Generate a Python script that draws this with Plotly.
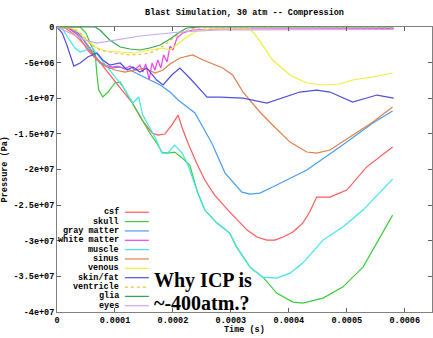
import plotly.graph_objects as go

# ---- data: time in units of 1e-4 s, pressure in MPa ----
names = ["csf", "skull", "gray matter", "white matter", "muscle", "sinus",
         "venous", "skin/fat", "ventricle", "glia", "eyes"]
colors = ["#ff5a5a", "#3ccc3c", "#4a9cf0", "#ee44ee", "#40e4ec", "#e0804c",
          "#eeee3a", "#5050dc", "#f0c040", "#30a850", "#c8a8f4"]
dashes = ["solid"] * 8 + ["dot", "solid", "solid"]

csf_t = [0, 0.19, 0.36, 0.53, 0.71, 0.91, 1.12, 1.29, 1.47, 1.64, 1.74, 1.86, 1.98, 2.09, 2.16, 2.26,
         2.40, 2.55, 2.72, 2.95, 3.28, 3.45, 3.62, 3.76, 3.90, 4.07, 4.24, 4.36, 4.48, 4.71, 5.00, 5.34, 5.79]
csf_p = [0, -0.14, -0.84, -2.53, -4.63, -6.74, -8.85, -10.53, -13.06, -14.88, -15.16, -15.02, -13.76, -12.36,
         -14.18, -16.29, -18.95, -21.48, -23.59, -25.69, -28.50, -29.48, -29.91, -29.91, -29.48, -28.78,
         -27.52, -25.97, -23.87, -23.87, -22.89, -19.66, -16.85]

skull_t = [0, 0.40, 0.50, 0.60, 0.66, 0.69, 0.72, 0.79, 0.88, 1.00, 1.09, 1.22, 1.34, 1.47, 1.60, 1.72,
           1.81, 1.91, 2.03, 2.16, 2.29, 2.43, 2.55, 2.76, 2.98, 3.10, 3.33, 3.57, 3.79, 4.07, 4.24, 4.59,
           4.93, 5.28, 5.62, 5.79]
skull_p = [0, 0, -0.84, -2.95, -3.93, -6.74, -8.85, -9.83, -9.13, -7.86, -7.72, -9.55, -11.23, -13.06,
           -14.88, -16.29, -17.55, -17.69, -17.55, -18.39, -19.38, -23.31, -25.69, -27.52, -28.92, -30.89,
           -33.70, -35.24, -37.35, -38.61, -38.75, -38.05, -36.50, -33.70, -28.92, -26.40]

gray_t = [0, 0.22, 0.40, 0.57, 0.74, 0.91, 1.09, 1.26, 1.43, 1.60, 1.78, 1.95, 2.09, 2.38, 2.67, 2.90,
          3.19, 3.33, 3.50, 3.72, 4.31, 4.88, 5.45, 5.79]
gray_p = [0, -0.14, -1.12, -3.23, -5.05, -5.76, -5.62, -6.04, -6.74, -7.44, -8.14, -9.13, -10.25, -12.07,
          -16.29, -20.50, -23.17, -23.45, -23.31, -22.46, -20.08, -16.85, -13.48, -11.79]

white_t = [0, 0.19, 0.36, 0.53, 0.69, 0.83, 0.95, 1.05, 1.17, 1.26, 1.34, 1.43, 1.48, 1.53, 1.59, 1.64,
           1.69, 1.74, 1.79, 1.84, 1.90, 1.95, 2.00, 2.07, 2.17, 2.34, 2.81, 4.19, 5.81]
white_p = [0, -0.14, -1.12, -3.23, -4.63, -5.34, -5.62, -5.48, -5.90, -5.48, -6.04, -5.34, -6.32, -5.19,
           -7.40, -5.05, -6.04, -4.63, -5.76, -3.93, -4.91, -2.67, -3.23, -1.54, -0.84, -0.42, -0.28,
           -0.21, -0.21]

muscle_t = [0, 0.10, 0.19, 0.31, 0.40, 0.50, 0.60, 0.74, 0.91, 1.14, 1.31, 1.41, 1.48, 1.60, 1.69, 1.81,
            1.91, 2.03, 2.16, 2.26, 2.43, 2.55, 2.76, 2.98, 3.10, 3.33, 3.55, 3.79, 4.02, 4.24, 4.59, 4.93,
            5.28, 5.79]
muscle_p = [0, -0.28, -1.54, -2.95, -3.51, -3.23, -2.81, -4.35, -6.04, -8.42, -10.67, -9.83, -12.36,
            -14.18, -15.44, -17.69, -17.69, -16.57, -17.69, -19.38, -23.31, -25.69, -27.52, -28.92, -30.89,
            -33.70, -35.10, -35.24, -34.54, -33.13, -29.91, -28.08, -25.69, -21.34]

sinus_t = [0, 0.14, 0.31, 0.48, 0.66, 0.83, 1.00, 1.17, 1.34, 1.52, 1.69, 1.83, 1.95, 2.12, 2.34, 2.52,
           2.86, 3.03, 3.21, 3.50, 3.72, 4.02, 4.31, 4.48, 4.71, 5.17, 5.45, 5.79]
sinus_p = [0, -0.14, -1.12, -2.53, -4.35, -5.48, -6.04, -6.32, -6.04, -5.76, -6.46, -6.04, -5.19, -4.35,
           -3.93, -4.63, -5.76, -6.74, -9.13, -11.93, -13.76, -16.15, -17.55, -17.69, -17.27, -14.88,
           -13.34, -11.23]

venous_t = [0, 0.22, 0.34, 0.48, 0.66, 0.83, 1.09, 1.34, 1.60, 1.83, 1.95, 2.09, 2.24, 2.41, 2.64, 3.33,
            3.45, 3.72, 4.02, 4.31, 4.59, 4.88, 5.10, 5.45, 5.79]
venous_p = [0, -0.14, -0.42, -1.54, -2.81, -3.37, -3.51, -3.65, -3.23, -2.95, -3.23, -2.39, -1.40, -0.56,
            -0.28, -0.28, -1.40, -4.63, -6.74, -7.86, -8.14, -8.00, -7.44, -7.02, -6.46]

skin_t = [0, 0.09, 0.17, 0.24, 0.29, 0.40, 0.53, 0.69, 0.79, 0.91, 1.09, 1.21, 1.31, 1.43, 1.55, 1.72,
          1.83, 1.98, 2.12, 2.29, 2.47, 2.59, 2.81, 3.21, 3.62, 3.93, 4.19, 4.48, 4.71, 5.10, 5.52, 5.81]
skin_p = [0, -0.84, -2.53, -4.35, -5.48, -5.05, -4.21, -3.65, -4.63, -5.34, -5.05, -6.04, -5.62, -6.32,
          -5.76, -7.44, -8.14, -6.74, -5.76, -7.16, -8.85, -9.83, -9.83, -9.97, -10.67, -9.83, -9.13,
          -8.85, -9.13, -10.53, -9.55, -9.97]

ventricle_t = [0, 0.26, 0.40, 0.57, 0.74, 1.00, 1.26, 1.52, 1.69, 1.86, 2.03, 2.21, 2.38, 3.33, 5.81]
ventricle_p = [0, -0.14, -0.84, -2.39, -3.23, -3.65, -3.93, -3.79, -3.37, -2.53, -1.40, -0.56, -0.14,
               -0.14, -0.14]

glia_t = [0, 0.66, 0.74, 0.91, 1.09, 1.26, 1.43, 1.60, 1.78, 1.95, 2.12, 2.24, 2.47, 5.81]
glia_p = [0, 0, -0.42, -1.83, -2.81, -3.09, -3.23, -2.95, -2.53, -1.68, -0.70, -0.14, 0, 0]

eyes_t = [0, 0.14, 0.31, 0.48, 0.69, 0.91, 1.17, 1.43, 1.78, 2.12, 2.81, 4.19, 5.81]
eyes_p = [0, -0.56, -1.26, -1.83, -2.25, -1.97, -1.54, -1.26, -0.98, -0.70, -0.42, -0.35, -0.35]

series_t = [csf_t, skull_t, gray_t, white_t, muscle_t, sinus_t, venous_t, skin_t, ventricle_t, glia_t, eyes_t]
series_p = [csf_p, skull_p, gray_p, white_p, muscle_p, sinus_p, venous_p, skin_p, ventricle_p, glia_p, eyes_p]

x_ticks = [0, 0.0001, 0.0002, 0.0003, 0.0004, 0.0005, 0.0006]
x_ticktext = ["0", "0.0001", "0.0002", "0.0003", "0.0004", "0.0005", "0.0006"]
y_ticks = [0, -5e6, -1e7, -1.5e7, -2e7, -2.5e7, -3e7, -3.5e7, -4e7]
y_ticktext = ["0", "-5e+06", "-1e+07", "-1.5e+07", "-2e+07", "-2.5e+07", "-3e+07", "-3.5e+07", "-4e+07"]

MONO = dict(family="Liberation Mono, DejaVu Sans Mono, monospace", size=8.5, color="#000000", weight="bold")

fig = go.Figure()
for name, col, dsh, ts, ps in zip(names, colors, dashes, series_t, series_p):
    fig.add_trace(go.Scatter(
        x=[v * 1e-4 for v in ts], y=[v * 1e6 for v in ps], mode="lines", name=name,
        line=dict(color=col, width=1.2, dash=dsh), showlegend=False))

# custom gnuplot-style key (text right-aligned, sample to the right)
row_top = 0.35
row_step = 0.0328
for i, (name, col, dsh) in enumerate(zip(names, colors, dashes)):
    yy = row_top - i * row_step
    fig.add_annotation(x=0.17, y=yy, xref="paper", yref="paper", text=name, showarrow=False,
                       xanchor="right", yanchor="middle", font=MONO)
    fig.add_shape(type="line", xref="paper", yref="paper", x0=0.181, x1=0.245, y0=yy, y1=yy,
                  line=dict(color=col, width=1.2, dash=dsh))

SERIF = dict(family="Liberation Serif, Times New Roman, serif", size=20, color="#000000", weight="bold")
fig.add_annotation(x=0.254, y=0.112, xref="paper", yref="paper", text="Why ICP is", showarrow=False,
                   xanchor="left", yanchor="middle", font=SERIF)
fig.add_annotation(x=0.254, y=0.032, xref="paper", yref="paper", text="~-400atm.?", showarrow=False,
                   xanchor="left", yanchor="middle", font=SERIF)

fig.add_annotation(x=-0.139, y=0.5, xref="paper", yref="paper", text="Pressure (Pa)", textangle=-90,
                   showarrow=False, xanchor="center", yanchor="middle", font=MONO)
fig.add_annotation(x=0.5, y=-0.089, xref="paper", yref="paper", text="Time (s)",
                   showarrow=False, xanchor="center", yanchor="bottom", font=MONO)

fig.update_layout(
    width=433, height=338,
    margin=dict(l=57, r=1, t=27, b=26),
    paper_bgcolor="white", plot_bgcolor="white",
    title=dict(text="Blast Simulation, 30 atm -- Compression", x=0.5, xref="paper",
               y=0.964, yanchor="middle", font=MONO),
    xaxis=dict(range=[0, 0.000647], tickvals=x_ticks, ticktext=x_ticktext, showgrid=False,
               zeroline=False, showline=True, linecolor="#808080", linewidth=1, mirror="ticks",
               ticks="inside", ticklen=4, tickcolor="#606060", tickfont=MONO),
    yaxis=dict(range=[-4e7, 0], tickvals=y_ticks, ticktext=y_ticktext, showgrid=False,
               zeroline=False, showline=True, linecolor="#808080", linewidth=1, mirror="ticks",
               ticks="inside", ticklen=4, tickcolor="#606060", tickfont=MONO),
)

fig.write_html("out.html", config={"displayModeBar": False},
               post_script="document.body.style.margin='0';document.body.style.overflow='hidden';")
